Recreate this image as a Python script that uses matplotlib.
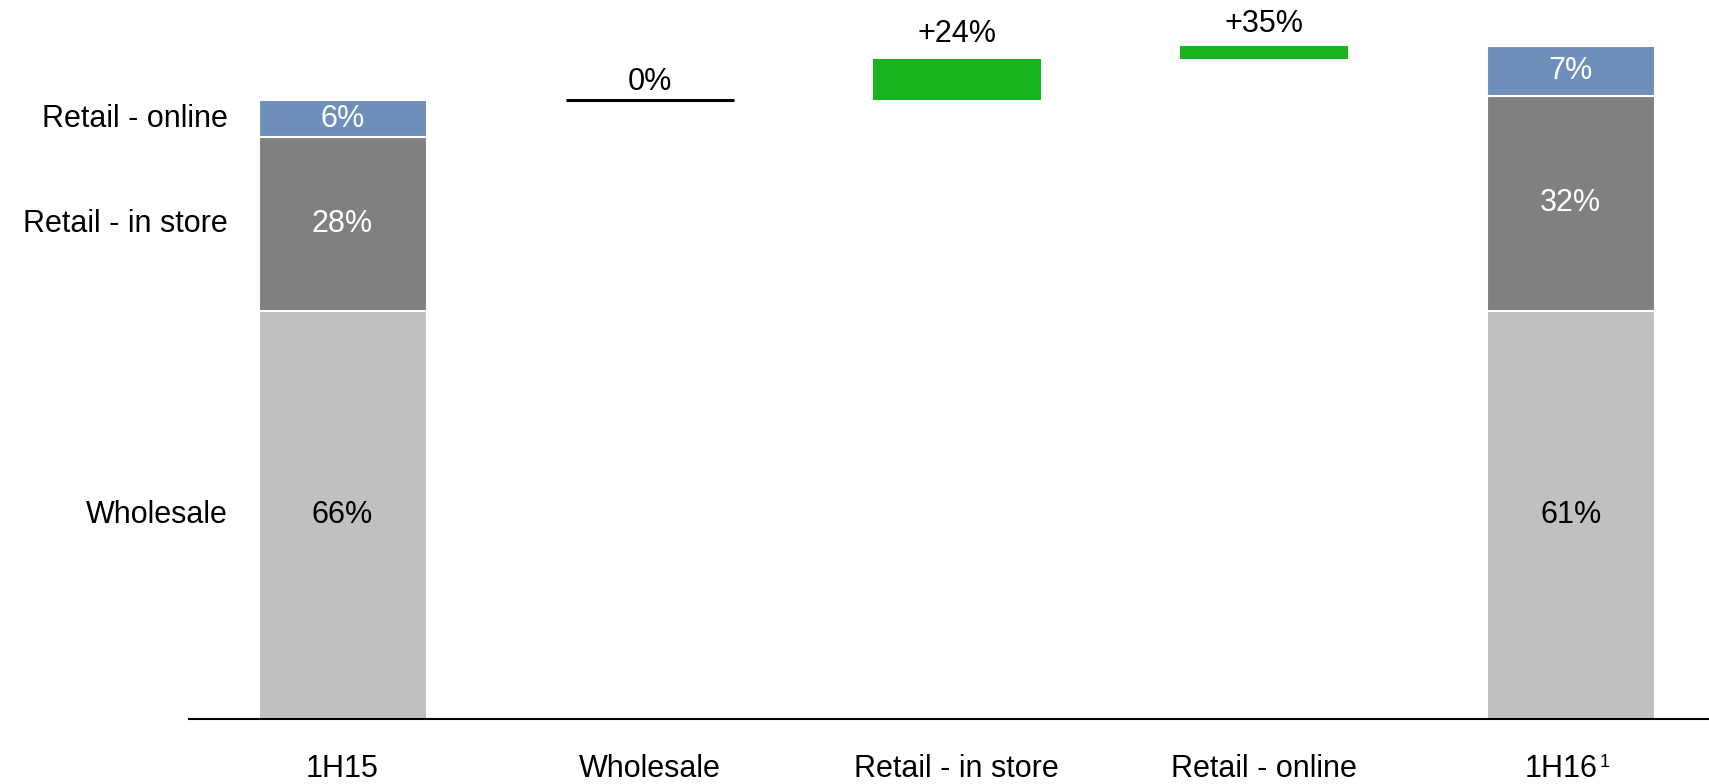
import matplotlib.pyplot as plt
import matplotlib.transforms as mtransforms

plt.rcParams['font.family'] = ['Liberation Sans', 'DejaVu Sans']

# revenue mix, 1H15 = 100
categories = ['1H15', 'Wholesale', 'Retail - in store', 'Retail - online', '1H16']
channels = ['Wholesale', 'Retail - in store', 'Retail - online']
share_1h15 = [66, 28, 6]
growth = [0, 24, 35]
share_1h16 = [61, 32, 7]

seg_colors = ['#c0c0c0', '#808080', '#6f8fbb']
seg_text = ['black', 'white', 'white']
green = '#18b31e'

# absolute size of each channel after growth
end_vals = [s * (1 + g / 100) for s, g in zip(share_1h15, growth)]
deltas = [e - s for s, e in zip(share_1h15, end_vals)]

fig = plt.figure(figsize=(17.09, 7.84), dpi=100)
ax = fig.add_axes([0.1106, 0.0829, 0.8894, 0.9171])

width = 0.547
fs = 22


def stacked(x, vals, labels):
    bottom = 0
    for v, c, tc, lab in zip(vals, seg_colors, seg_text, labels):
        ax.bar(x, v, width, bottom=bottom, color=c, edgecolor='white', linewidth=1.5)
        ax.text(x, bottom + v / 2, f'{lab}%', ha='center', va='center', color=tc, fontsize=fs)
        bottom += v


stacked(0, share_1h15, share_1h15)
stacked(4, end_vals, share_1h16)

# channel labels beside the first bar
bottom = 0
for v, name in zip(share_1h15, channels):
    ax.text(-0.375, bottom + v / 2, name, ha='right', va='center', fontsize=fs)
    bottom += v

# bridge steps
level = sum(share_1h15)
offsets = [2, 7, 5]
for i, (d, g) in enumerate(zip(deltas, growth)):
    x = i + 1
    if d == 0:
        ax.hlines(level, x - width / 2, x + width / 2, color='black', linewidth=2.2)
        top = level
        txt = f'{g}%'
    else:
        ax.bar(x, d, width, bottom=level, color=green, linewidth=0)
        top = level + d
        txt = f'+{g}%'
    ax.annotate(txt, (x, top), xytext=(0, offsets[i]), textcoords='offset points',
                ha='center', va='bottom', fontsize=fs)
    level += d

ax.set_xlim(-0.5, 4.45)
ax.set_ylim(0, 116.2)
ax.set_xticks(range(len(categories)))
ax.set_xticklabels(categories, fontsize=fs)
ax.tick_params(axis='x', length=0, pad=25)

# nudge the last label left to make room for its footnote marker
last = ax.get_xticklabels()[-1]
last.set_transform(last.get_transform() + mtransforms.ScaledTranslation(-7 / 72, 0, fig.dpi_scale_trans))
ax.annotate('1', (4, 0), xytext=(21, -25.5), textcoords='offset points',
            ha='left', va='top', fontsize=13, annotation_clip=False)

ax.set_yticks([])
for side in ['top', 'right', 'left']:
    ax.spines[side].set_visible(False)
ax.spines['bottom'].set_linewidth(1.5)
ax.patch.set_alpha(0)

fig.savefig('out.png', dpi=100)
